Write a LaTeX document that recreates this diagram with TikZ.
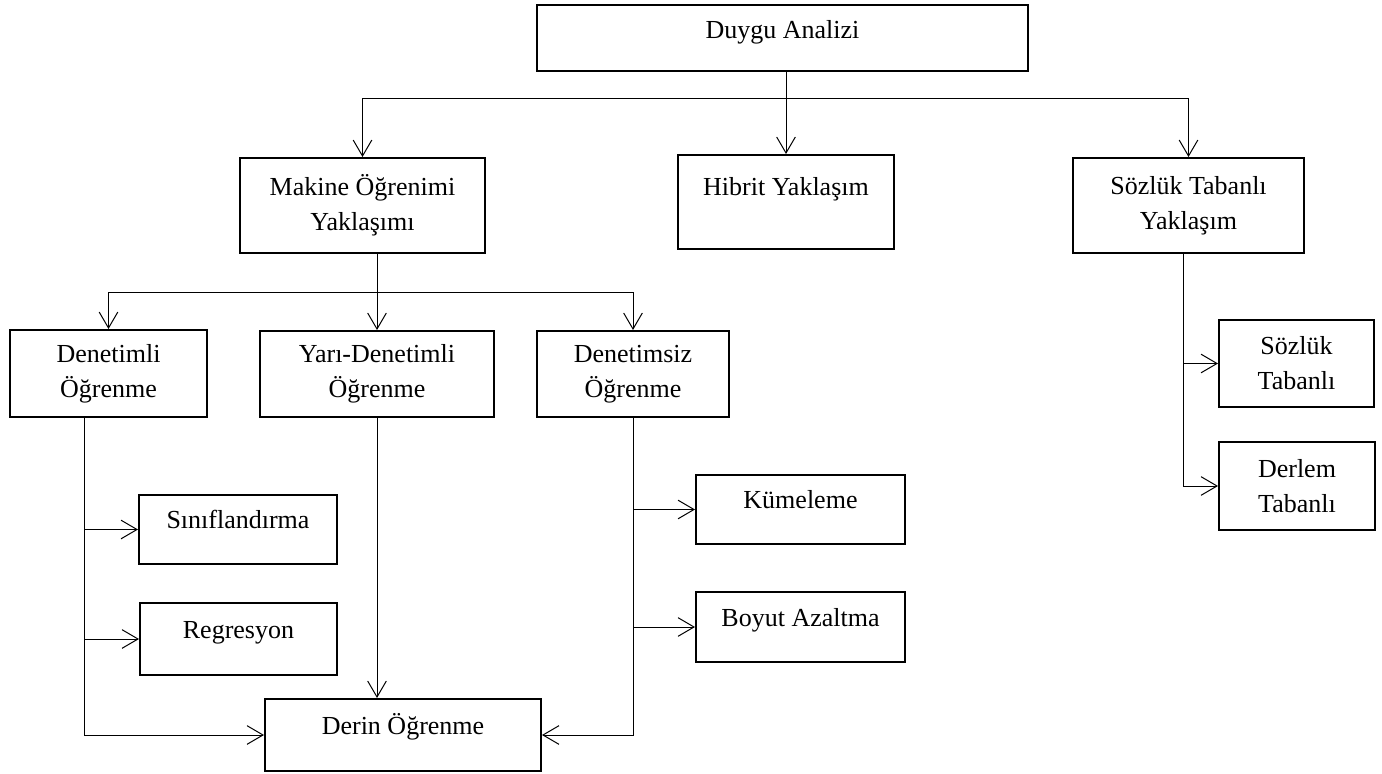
\documentclass[tikz,border=0pt]{standalone}
\usepackage{fontspec}
\setmainfont{Liberation Serif}
\usetikzlibrary{arrows.meta,calc}
\begin{document}
\begin{tikzpicture}[x=0.75pt,y=-0.75pt,
  box/.style={draw, line width=1.5pt, inner sep=0pt, align=center,
    font=\fontsize{19.5pt}{26.25pt}\selectfont},
  one/.style={text height=13.5pt, text depth=15pt},
  line/.style={line width=0.75pt},
  arr/.style={line width=0.75pt, -{Straight Barb[length=12pt,width=14pt]}}]
\useasboundingbox (0,0) rectangle (1382,774);

\node[box, one, text depth=12pt, minimum width=491*0.75pt, minimum height=66*0.75pt] (da) at (782.5,38) {Duygu Analizi};
\node[box, minimum width=245*0.75pt, minimum height=95*0.75pt] (ml) at (362.5,205.5) {Makine Öğrenimi\\Yaklaşımı};
\node[box, one, text depth=24pt, minimum width=216*0.75pt, minimum height=94*0.75pt] (hy) at (786,202) {Hibrit Yaklaşım};
\node[box, minimum width=231*0.75pt, minimum height=95*0.75pt] (sy) at (1188.5,205.5) {Sözlük Tabanlı\\Yaklaşım};
\node[box, minimum width=197*0.75pt, minimum height=87*0.75pt] (dl) at (108.5,373.5) {Denetimli\\Öğrenme};
\node[box, minimum width=234*0.75pt, minimum height=86*0.75pt] (yd) at (377,374) {Yarı-Denetimli\\Öğrenme};
\node[box, minimum width=192*0.75pt, minimum height=86*0.75pt] (du) at (633,374) {Denetimsiz\\Öğrenme};
\node[box, minimum width=155*0.75pt, minimum height=87*0.75pt] (st) at (1296.5,363.5) {Sözlük\\Tabanlı};
\node[box, minimum width=156*0.75pt, minimum height=88*0.75pt] (dt) at (1297,486) {Derlem\\Tabanlı};
\node[box, one, minimum width=198*0.75pt, minimum height=69*0.75pt] (sn) at (238,529.5) {Sınıflandırma};
\node[box, one, minimum width=197*0.75pt, minimum height=72*0.75pt] (rg) at (238.5,639) {Regresyon};
\node[box, one, minimum width=209*0.75pt, minimum height=69*0.75pt] (km) at (800.5,509.5) {Kümeleme};
\node[box, one, minimum width=209*0.75pt, minimum height=70*0.75pt] (ba) at (800.5,627) {Boyut Azaltma};
\node[box, one, minimum width=276*0.75pt, minimum height=72*0.75pt] (do) at (403,735) {Derin Öğrenme};

% top level
\coordinate (j1) at ($(hy.north)+(0,-55)$);
\draw[line] (da.south -| j1) -- (j1);
\draw[arr] (j1) -- (hy.north);
\draw[arr] (j1) -| (ml.north);
\draw[arr] (j1) -| (sy.north);

% machine learning branches
\coordinate (j2) at ($(yd.north)+(0,-38)$);
\draw[line] (ml.south -| j2) -- (j2);
\draw[arr] (j2) -- (yd.north);
\draw[arr] (j2) -| (dl.north);
\draw[arr] (j2) -| (du.north);

% supervised
\coordinate (v1) at ($(dl.south)+(-24,0)$);
\draw[arr] (v1) |- (do.west);
\draw[arr] (v1 |- sn.west) -- (sn.west);
\draw[arr] (v1 |- rg.west) -- (rg.west);

% semi-supervised
\draw[arr] (yd.south) -- (yd.south |- do.north);

% unsupervised
\draw[arr] (du.south) |- (do.east);
\draw[arr] (du.south |- km.west) -- (km.west);
\draw[arr] (du.south |- ba.west) -- (ba.west);

% lexicon based
\coordinate (v2) at ($(sy.south)+(-5,0)$);
\draw[arr] (v2) |- (dt.west);
\draw[arr] (v2 |- st.west) -- (st.west);
\end{tikzpicture}
\end{document}
